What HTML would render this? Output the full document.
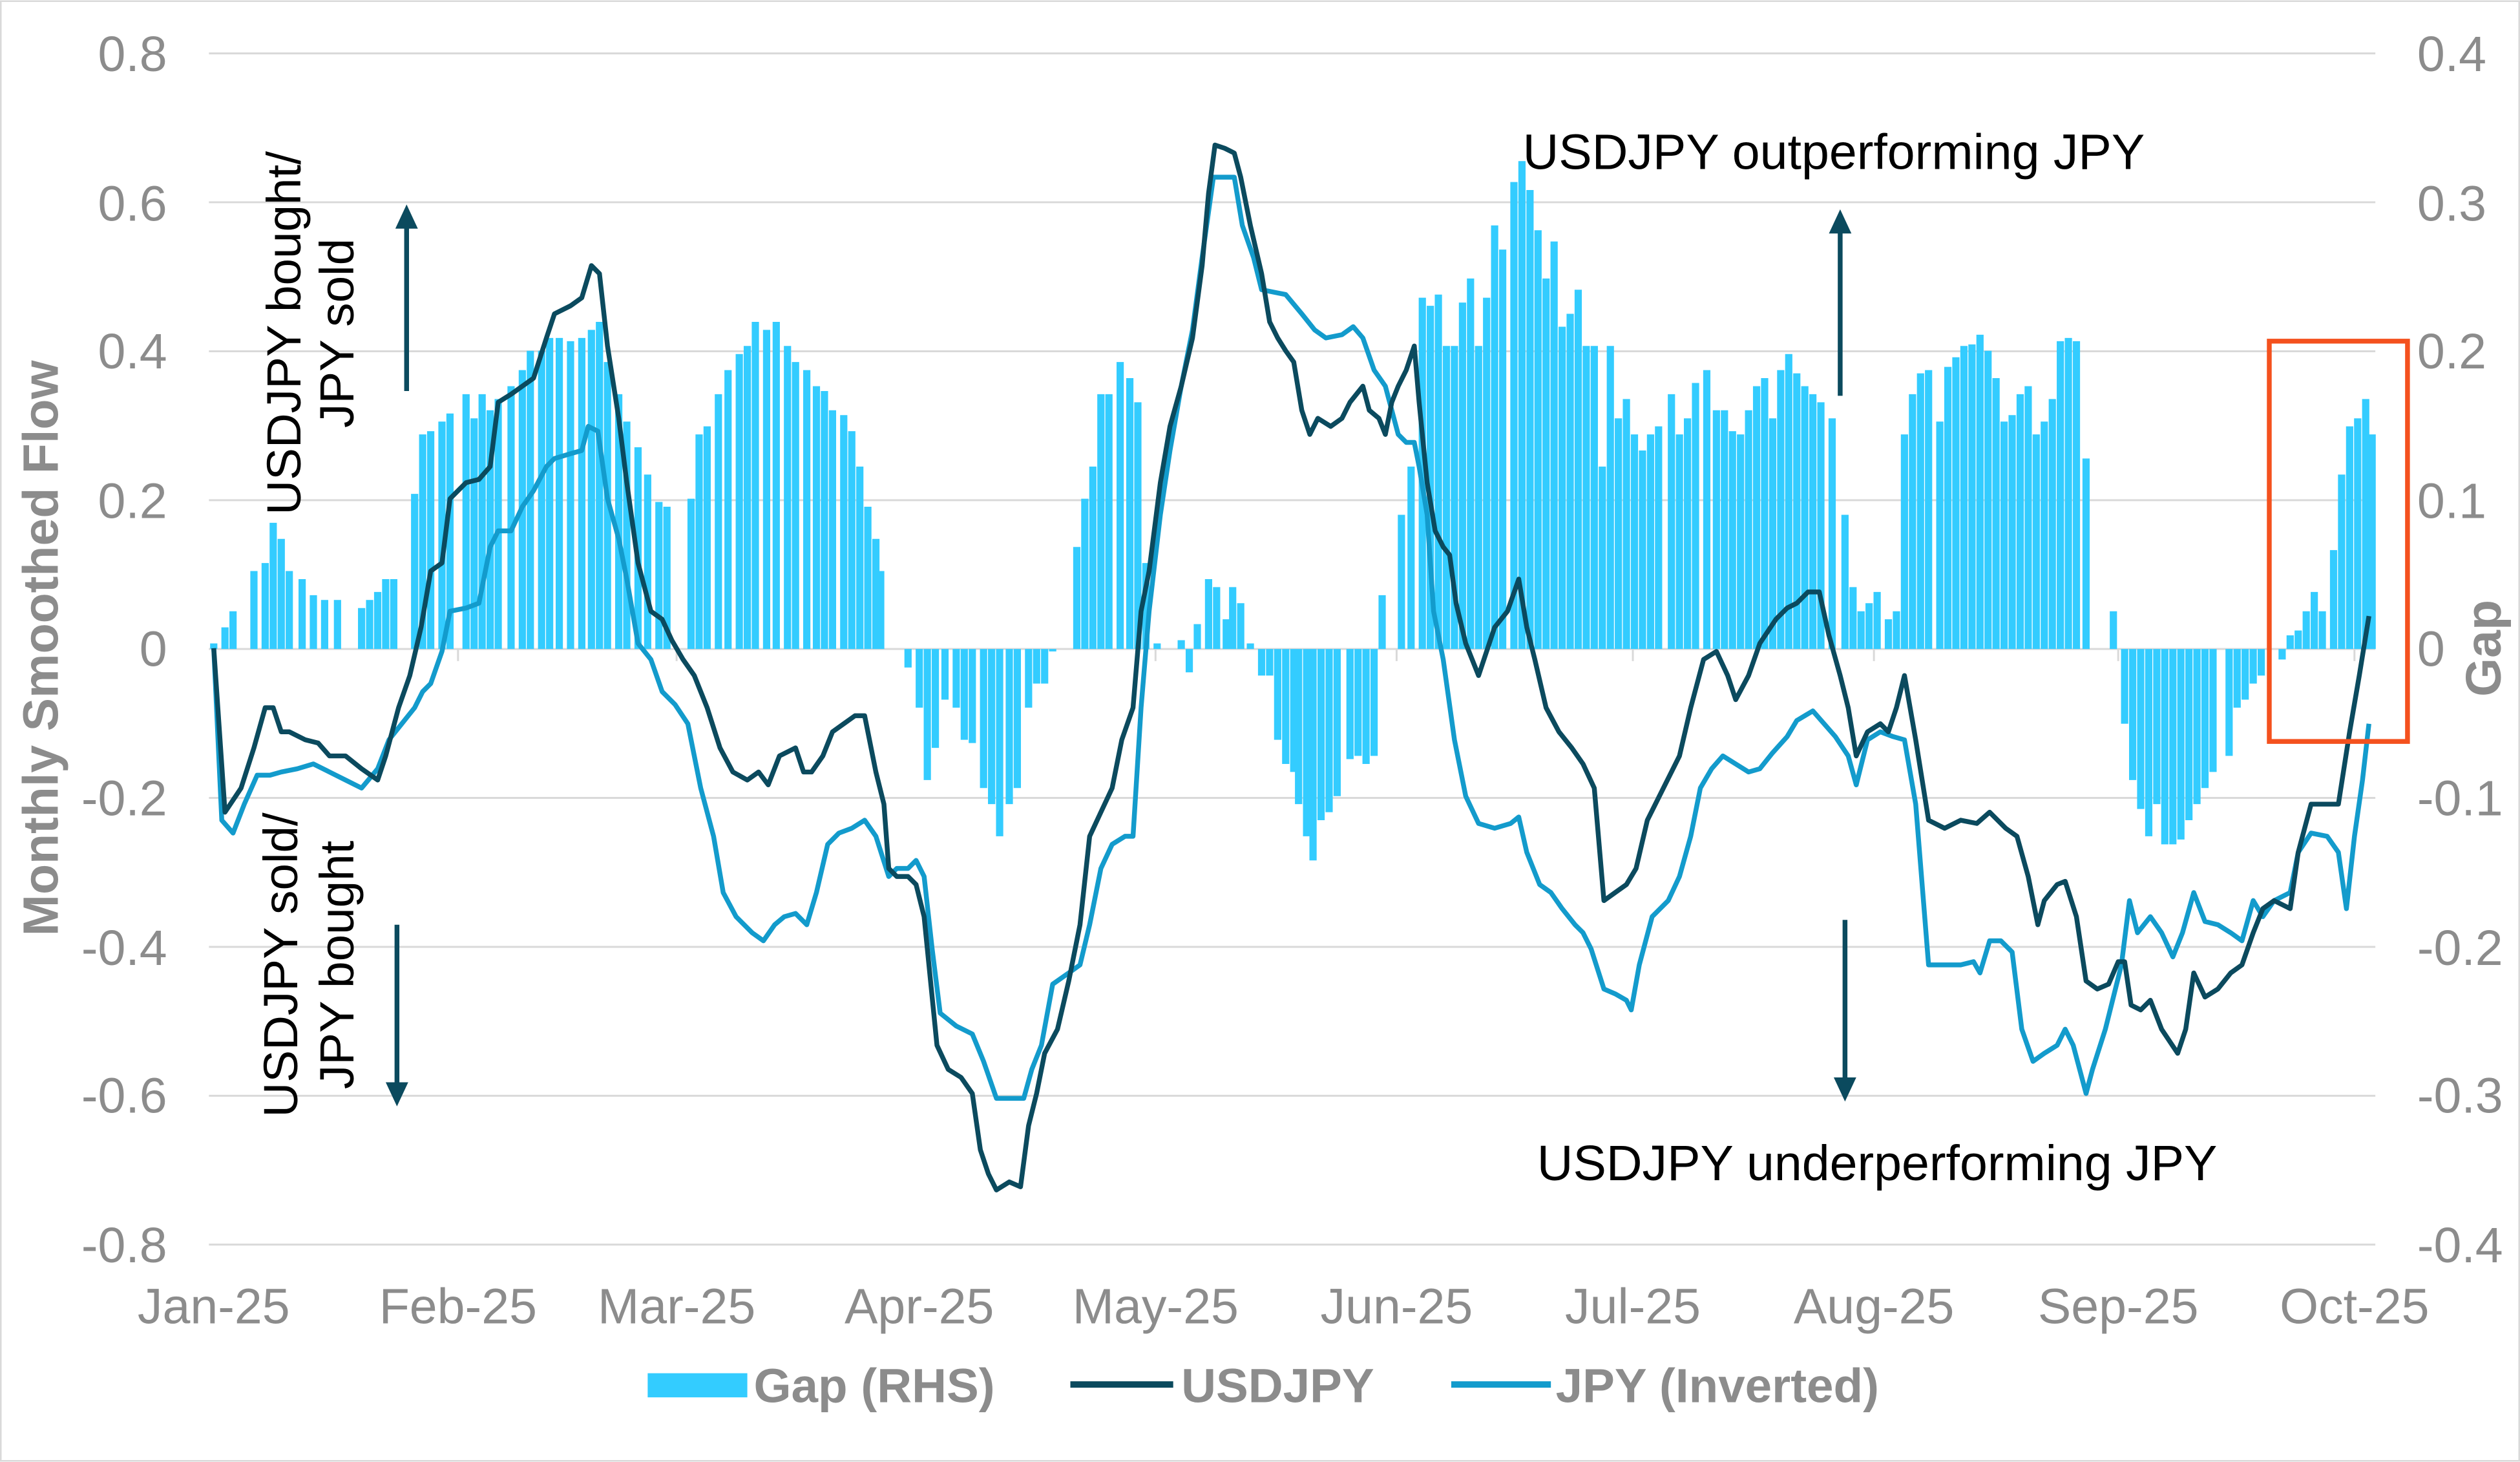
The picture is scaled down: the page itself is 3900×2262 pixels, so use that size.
<!DOCTYPE html>
<html><head><meta charset="utf-8"><style>
html,body{margin:0;padding:0;background:#fff}
svg{display:block}
text{font-family:"Liberation Sans",Arial,sans-serif}
</style></head><body>
<svg width="3900" height="2262" viewBox="0 0 1568 909" xmlns="http://www.w3.org/2000/svg">
<rect x="0.5" y="0.5" width="1567" height="908" fill="#fff" stroke="#d9d9d9" stroke-width="1"/>
<g stroke="#d9d9d9" stroke-width="1.2">
<line x1="130" x2="1478" y1="33" y2="33"/><line x1="130" x2="1478" y1="125.6" y2="125.6"/>
<line x1="130" x2="1478" y1="218.3" y2="218.3"/><line x1="130" x2="1478" y1="310.9" y2="310.9"/>
<line x1="130" x2="1478" y1="403.5" y2="403.5"/><line x1="130" x2="1478" y1="496.1" y2="496.1"/>
<line x1="130" x2="1478" y1="588.8" y2="588.8"/><line x1="130" x2="1478" y1="681.4" y2="681.4"/>
<line x1="130" x2="1478" y1="774" y2="774"/>
</g>
<g stroke="#d9d9d9" stroke-width="1.2">
<line x1="285" x2="285" y1="403" y2="411"/><line x1="421" x2="421" y1="403" y2="411"/><line x1="572" x2="572" y1="403" y2="411"/><line x1="719" x2="719" y1="403" y2="411"/><line x1="869" x2="869" y1="403" y2="411"/><line x1="1016" x2="1016" y1="403" y2="411"/><line x1="1166" x2="1166" y1="403" y2="411"/><line x1="1318" x2="1318" y1="403" y2="411"/><line x1="1465" x2="1465" y1="403" y2="411"/>
</g>
<path fill="none" stroke="#33ccff" stroke-width="4.5" d="M133 403.5V400M140 403.5V390M145 403.5V380M158 403.5V355M165 403.5V350M170 403.5V325M175 403.5V335M180 403.5V355M188 403.5V360M195 403.5V370M202 403.5V373M210 403.5V373M225 403.5V378M230 403.5V373M235 403.5V368M240 403.5V360M245 403.5V360M258 403.5V307M263 403.5V270M268 403.5V268M275 403.5V262M280 403.5V257M290 403.5V245M295 403.5V260M300 403.5V245M305 403.5V255M310 403.5V248M318 403.5V240M325 403.5V230M330 403.5V218M337 403.5V218M342 403.5V210M348 403.5V210M355 403.5V212M362 403.5V210M368 403.5V205M373 403.5V200M378 403.5V225M385 403.5V245M390 403.5V262M397 403.5V278M403 403.5V295M410 403.5V312M415 403.5V315M430 403.5V310M435 403.5V270M440 403.5V265M447 403.5V245M453 403.5V230M460 403.5V220M465 403.5V215M470 403.5V200M477 403.5V205M483 403.5V200M490 403.5V215M495 403.5V225M502 403.5V230M508 403.5V240M513 403.5V243M518 403.5V255M525 403.5V258M530 403.5V268M535 403.5V290M540 403.5V315M545 403.5V335M548 403.5V355M565 403.5V415M572 403.5V440M577 403.5V485M582 403.5V465M588 403.5V435M595 403.5V440M600 403.5V460M605 403.5V462M612 403.5V490M617 403.5V500M622 403.5V520M628 403.5V500M633 403.5V490M640 403.5V440M645 403.5V425M650 403.5V425M655 403.5V405M670 403.5V340M675 403.5V310M680 403.5V290M685 403.5V245M690 403.5V245M697 403.5V225M703 403.5V235M708 403.5V250M713 403.5V350M720 403.5V400M735 403.5V398M740 403.5V418M745 403.5V388M752 403.5V360M757 403.5V365M763 403.5V385M767 403.5V365M772 403.5V375M778 403.5V400M785 403.5V420M790 403.5V420M795 403.5V460M800 403.5V475M805 403.5V480M808 403.5V500M813 403.5V520M817 403.5V535M822 403.5V510M827 403.5V505M832 403.5V495M840 403.5V472M845 403.5V470M850 403.5V475M855 403.5V470M860 403.5V370M872 403.5V320M878 403.5V290M885 403.5V185M890 403.5V190M895 403.5V183M900 403.5V215M905 403.5V215M910 403.5V188M915 403.5V173M920 403.5V215M925 403.5V185M930 403.5V140M935 403.5V155M942 403.5V113M947 403.5V100M952 403.5V118M957 403.5V143M962 403.5V173M967 403.5V150M972 403.5V203M977 403.5V195M982 403.5V180M987 403.5V215M992 403.5V215M997 403.5V290M1002 403.5V215M1007 403.5V260M1012 403.5V248M1017 403.5V270M1022 403.5V280M1027 403.5V270M1032 403.5V265M1040 403.5V245M1045 403.5V270M1050 403.5V260M1055 403.5V238M1062 403.5V230M1068 403.5V255M1073 403.5V255M1078 403.5V268M1083 403.5V270M1088 403.5V255M1093 403.5V240M1098 403.5V235M1103 403.5V260M1108 403.5V230M1113 403.5V220M1118 403.5V232M1123 403.5V240M1128 403.5V245M1133 403.5V250M1140 403.5V260M1148 403.5V320M1153 403.5V365M1158 403.5V380M1163 403.5V375M1168 403.5V368M1175 403.5V385M1180 403.5V380M1185 403.5V270M1190 403.5V245M1195 403.5V232M1200 403.5V230M1207 403.5V262M1212 403.5V228M1217 403.5V222M1222 403.5V215M1227 403.5V214M1232 403.5V208M1237 403.5V218M1242 403.5V235M1247 403.5V262M1252 403.5V258M1257 403.5V245M1262 403.5V240M1267 403.5V270M1272 403.5V262M1277 403.5V248M1282 403.5V212M1287 403.5V210M1292 403.5V212M1298 403.5V285M1315 403.5V380M1322 403.5V450M1327 403.5V485M1332 403.5V503M1337 403.5V520M1342 403.5V500M1347 403.5V525M1352 403.5V525M1357 403.5V522M1362 403.5V510M1367 403.5V500M1372 403.5V490M1377 403.5V480M1387 403.5V470M1392 403.5V440M1397 403.5V435M1402 403.5V425M1407 403.5V420M1420 403.5V410M1425 403.5V395M1430 403.5V392M1435 403.5V380M1440 403.5V368M1445 403.5V380M1452 403.5V342M1457 403.5V295M1462 403.5V265M1467 403.5V260M1472 403.5V248M1476 403.5V270"/>
<polyline fill="none" stroke="#139bcc" stroke-width="3" stroke-linejoin="round" points="133,403 138,510 145,518 152,500 160,482 168,482 175,480 185,478 195,475 205,480 215,485 225,490 235,478 242,460 250,450 258,440 263,430 268,425 275,405 280,380 290,378 298,375 305,340 310,330 318,330 325,315 332,305 340,290 345,285 355,282 362,280 366,265 372,268 378,310 385,335 390,360 397,400 405,410 412,430 420,438 428,450 436,490 444,520 450,555 458,570 468,580 475,585 482,575 488,570 495,568 502,575 508,555 515,525 522,518 530,515 538,510 545,520 553,545 558,540 565,540 570,535 575,545 580,590 585,630 595,638 605,643 612,660 620,683 630,683 637,683 642,665 648,650 655,612 665,605 672,600 678,575 685,540 692,525 700,520 705,520 710,440 715,380 722,320 728,280 735,240 742,205 748,160 755,110 760,110 768,110 773,140 780,160 785,180 795,182 800,183 810,195 818,205 825,210 835,208 842,203 848,210 855,230 862,240 870,270 875,275 880,275 883,290 888,320 892,380 898,410 905,460 912,495 920,512 930,515 940,512 945,508 950,530 958,550 965,555 972,565 980,575 985,580 990,590 998,615 1005,618 1012,622 1015,628 1020,600 1028,570 1038,560 1045,545 1052,520 1058,490 1065,478 1072,470 1080,475 1088,480 1095,478 1103,468 1112,458 1118,448 1128,442 1135,450 1142,458 1150,470 1155,488 1162,460 1170,455 1178,458 1185,460 1192,500 1200,600 1210,600 1220,600 1228,598 1232,605 1238,585 1245,585 1252,592 1258,640 1265,660 1272,655 1280,650 1285,640 1290,650 1298,680 1302,665 1310,640 1320,600 1325,560 1330,580 1338,570 1345,580 1352,595 1358,580 1365,555 1372,573 1380,575 1388,580 1395,585 1402,560 1408,570 1415,560 1425,555 1430,530 1438,518 1448,520 1455,530 1460,565 1465,520 1470,485 1474,450"/>
<polyline fill="none" stroke="#0b4a5e" stroke-width="3" stroke-linejoin="round" points="133,403 140,505 150,490 158,465 165,440 170,440 175,455 180,455 190,460 198,462 205,470 215,470 225,478 235,485 240,470 248,440 255,420 262,390 268,355 275,350 280,310 290,300 298,298 305,290 310,250 318,245 325,240 332,235 340,210 345,195 355,190 362,185 368,165 373,170 378,215 385,260 390,300 397,350 405,380 412,385 418,398 425,410 432,420 440,440 448,465 456,480 465,485 472,480 478,488 485,470 495,465 500,480 505,480 512,470 518,455 525,450 532,445 538,445 545,480 550,500 553,540 558,545 565,545 570,550 575,570 580,620 583,650 590,665 598,670 605,680 610,715 615,730 620,740 628,735 635,738 640,700 645,680 650,655 658,640 665,610 672,575 678,520 685,505 692,490 698,460 705,440 710,380 715,355 722,300 728,265 735,240 742,210 748,165 752,120 756,90 762,92 768,95 772,110 778,140 785,170 790,200 795,210 800,218 805,225 810,255 815,270 820,260 828,265 835,260 840,250 848,240 852,255 858,260 862,270 866,250 870,240 875,230 880,215 883,250 888,300 893,330 898,340 902,345 906,375 912,400 920,420 930,390 938,380 945,360 950,390 955,410 962,440 970,455 978,465 985,475 992,490 998,560 1005,555 1012,550 1018,540 1025,510 1035,490 1045,470 1052,440 1060,410 1068,405 1075,420 1080,435 1088,420 1095,400 1105,385 1112,378 1118,375 1125,368 1132,368 1138,395 1145,420 1150,440 1155,470 1162,455 1170,450 1175,455 1180,440 1185,420 1192,460 1200,510 1210,515 1220,510 1230,512 1238,505 1248,515 1255,520 1262,545 1268,575 1272,560 1280,550 1285,548 1292,570 1298,610 1305,615 1312,612 1318,598 1322,598 1326,625 1332,628 1338,622 1345,640 1355,655 1360,640 1365,605 1372,620 1380,615 1388,605 1395,600 1402,580 1408,565 1415,560 1425,565 1430,530 1438,500 1448,500 1455,500 1462,455 1468,420 1474,383"/>
<rect x="1412" y="212" width="86" height="249" fill="none" stroke="#f4511e" stroke-width="3"/>
<g fill="#8c8c8c" font-size="31" text-anchor="end">
<text x="104" y="44">0.8</text><text x="104" y="137">0.6</text><text x="104" y="229">0.4</text><text x="104" y="322">0.2</text><text x="104" y="414">0</text><text x="104" y="507">-0.2</text><text x="104" y="600">-0.4</text><text x="104" y="692">-0.6</text><text x="104" y="785">-0.8</text>
</g>
<g fill="#8c8c8c" font-size="31" text-anchor="start">
<text x="1504" y="44">0.4</text><text x="1504" y="137">0.3</text><text x="1504" y="229">0.2</text><text x="1504" y="322">0.1</text><text x="1504" y="414">0</text><text x="1504" y="507">-0.1</text><text x="1504" y="600">-0.2</text><text x="1504" y="692">-0.3</text><text x="1504" y="785">-0.4</text>
</g>
<g fill="#8c8c8c" font-size="31" text-anchor="middle">
<text x="133" y="823">Jan-25</text><text x="285" y="823">Feb-25</text><text x="421" y="823">Mar-25</text><text x="572" y="823">Apr-25</text><text x="719" y="823">May-25</text><text x="869" y="823">Jun-25</text><text x="1016" y="823">Jul-25</text><text x="1166" y="823">Aug-25</text><text x="1318" y="823">Sep-25</text><text x="1465" y="823">Oct-25</text>
</g>
<text transform="translate(36,403) rotate(-90)" fill="#8c8c8c" font-size="31" font-weight="bold" text-anchor="middle">Monthly Smoothed Flow</text>
<text transform="translate(1556,403) rotate(-90)" fill="#8c8c8c" font-size="31" font-weight="bold" text-anchor="middle">Gap</text>
<g fill="#000" font-size="30" text-anchor="middle">
<text transform="translate(187,207) rotate(-90)">USDJPY bought/</text>
<text transform="translate(220,207) rotate(-90)">JPY sold</text>
<text transform="translate(185,600) rotate(-90)">USDJPY sold/</text>
<text transform="translate(220,600) rotate(-90)">JPY bought</text>
</g>
<g fill="#000" font-size="31" text-anchor="middle">
<text x="1141" y="105">USDJPY outperforming JPY</text>
<text x="1168" y="734">USDJPY underperforming JPY</text>
</g>
<g stroke="#0b4a5e" stroke-width="3" fill="#0b4a5e">
<line x1="253" y1="243" x2="253" y2="140"/><polygon points="246,142 260,142 253,127" stroke="none"/>
<line x1="247" y1="575" x2="247" y2="675"/><polygon points="240,673 254,673 247,688" stroke="none"/>
<line x1="1145" y1="246" x2="1145" y2="143"/><polygon points="1138,145 1152,145 1145,130" stroke="none"/>
<line x1="1148" y1="572" x2="1148" y2="672"/><polygon points="1141,670 1155,670 1148,685" stroke="none"/>
</g>
<rect x="403" y="854" width="62" height="15" fill="#33ccff"/>
<text x="469" y="872" fill="#8c8c8c" font-size="30" font-weight="bold">Gap (RHS)</text>
<line x1="666" y1="861" x2="730" y2="861" stroke="#0b4a5e" stroke-width="4"/>
<text x="735" y="872" fill="#8c8c8c" font-size="30" font-weight="bold">USDJPY</text>
<line x1="903" y1="861" x2="965" y2="861" stroke="#139bcc" stroke-width="4"/>
<text x="968" y="872" fill="#8c8c8c" font-size="30" font-weight="bold">JPY (Inverted)</text>
</svg>
</body></html>
